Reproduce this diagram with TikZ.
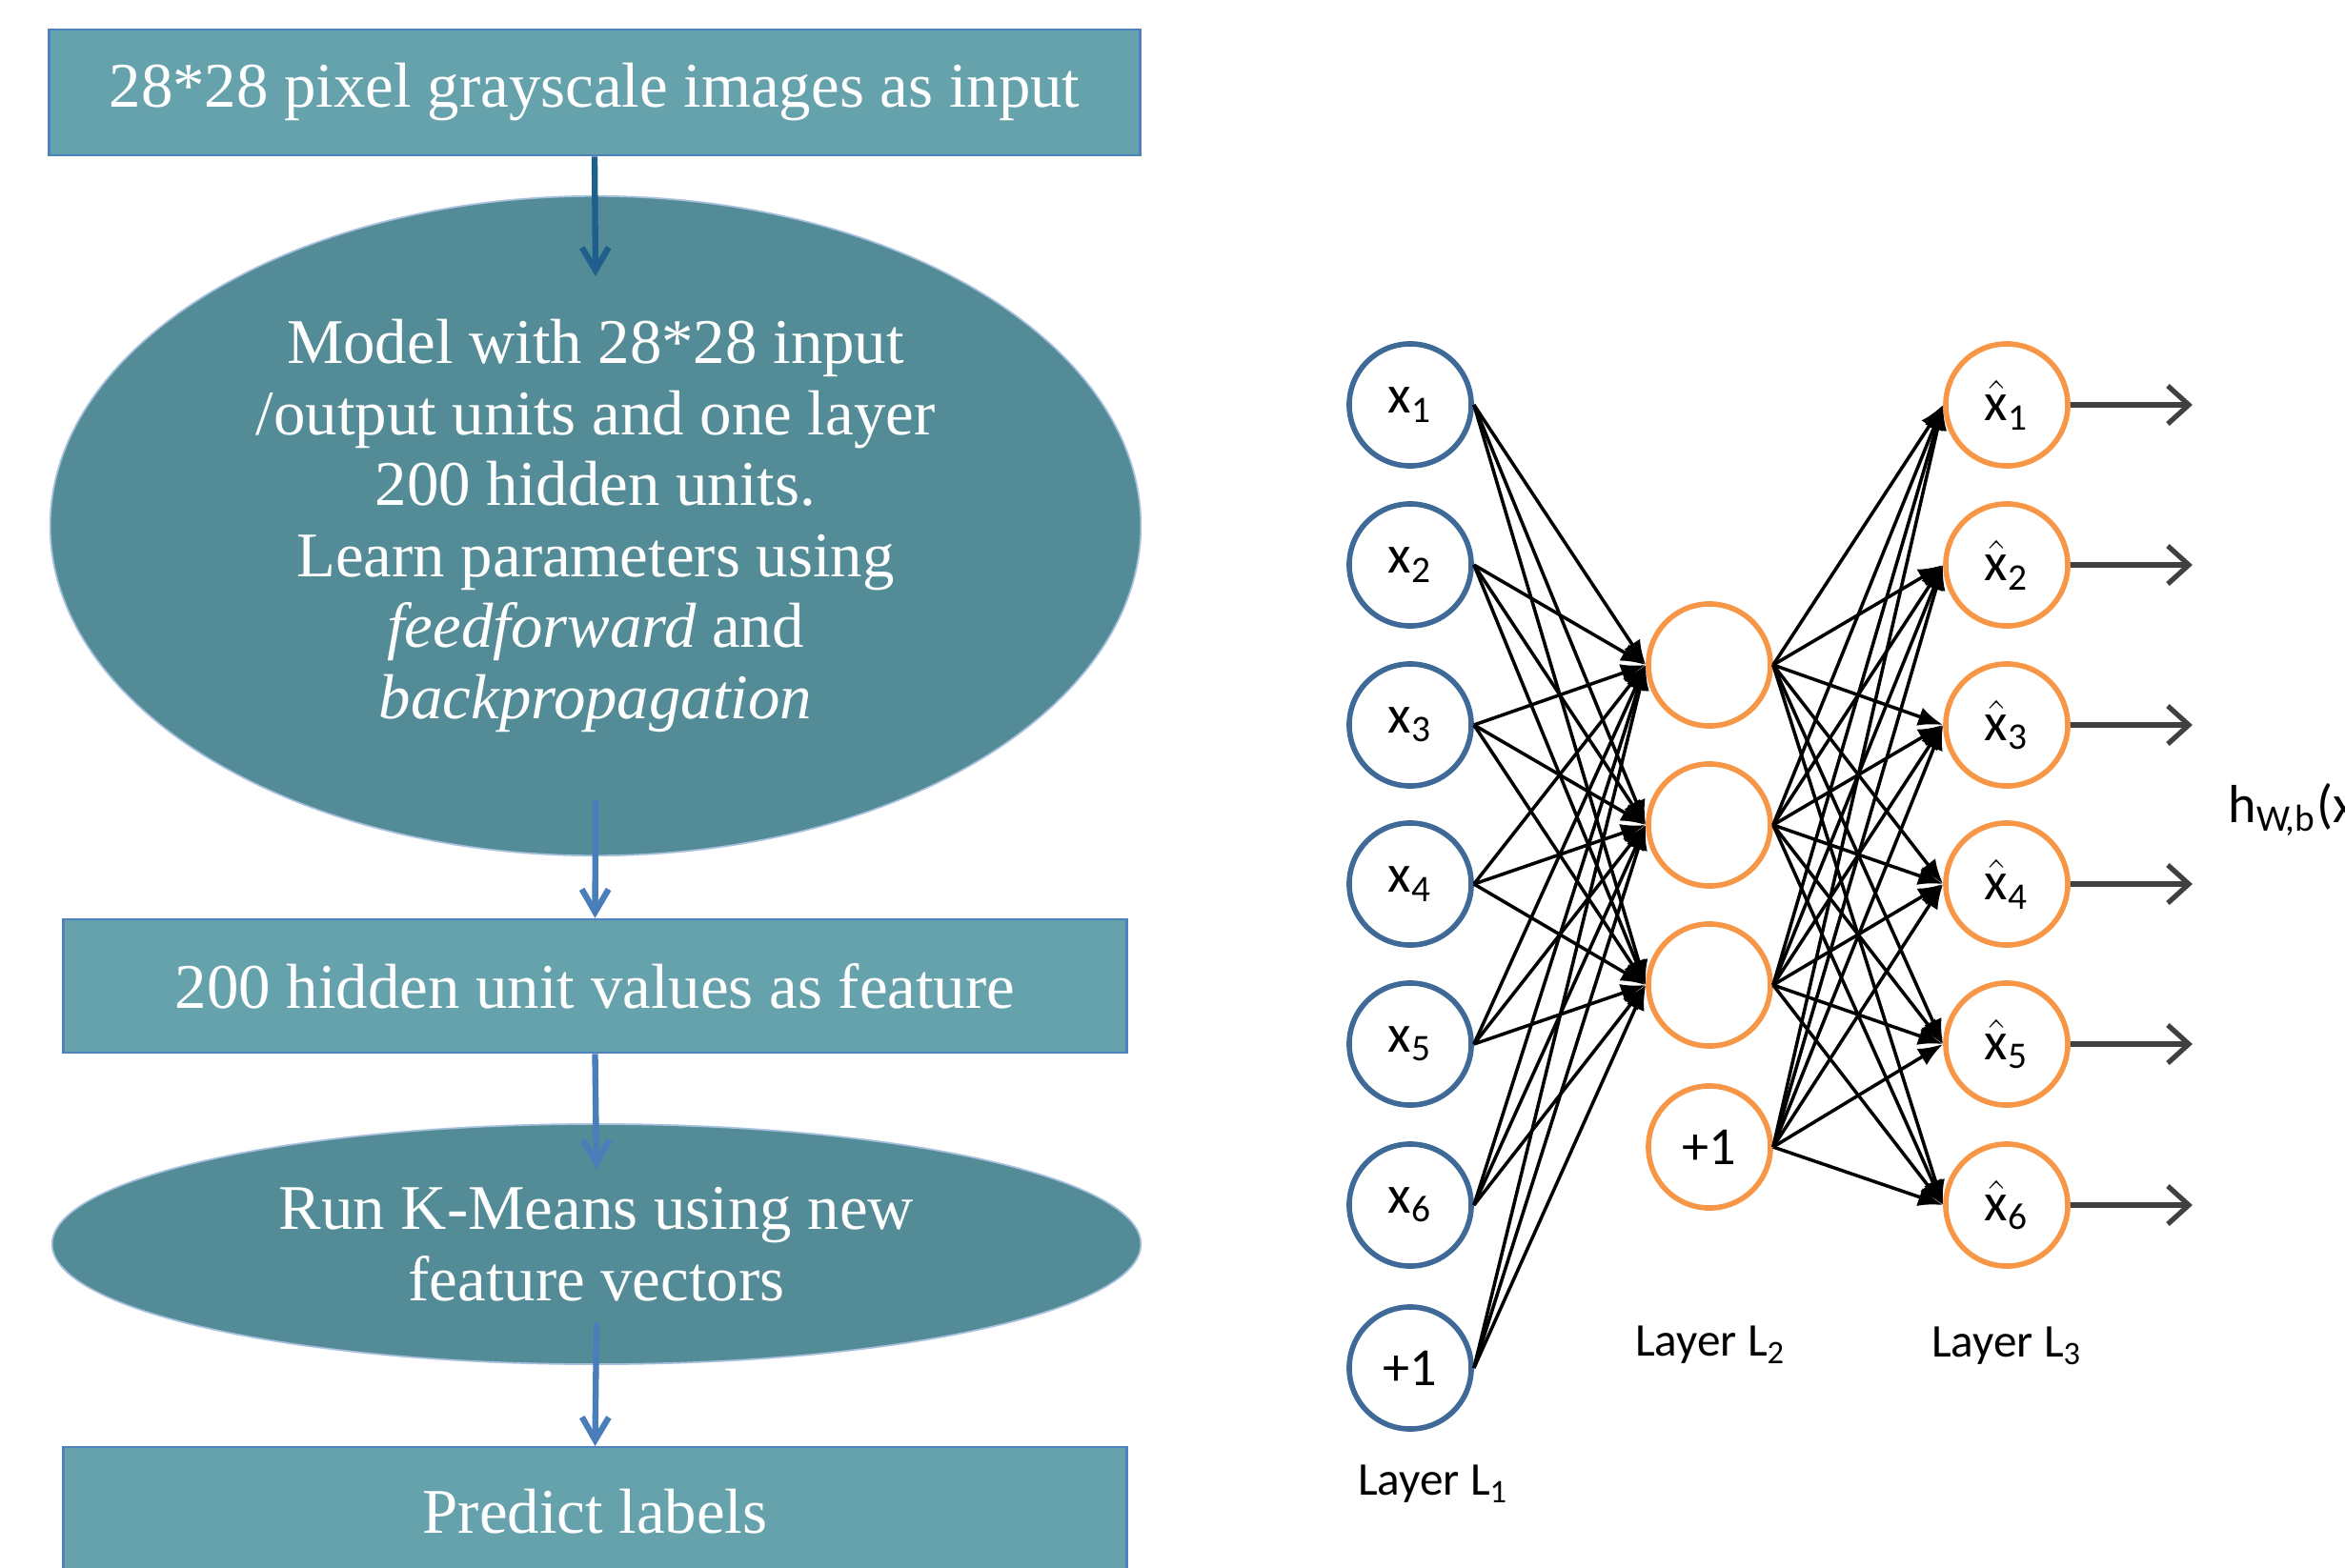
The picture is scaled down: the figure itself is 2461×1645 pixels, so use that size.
\documentclass[tikz,border=0pt]{standalone}
\usepackage{fontspec}
\setmainfont{Liberation Serif}
\newfontfamily\netfont{Carlito}
\usetikzlibrary{shapes.geometric,arrows.meta,positioning}

\definecolor{boxfill}{HTML}{66A2AC}
\definecolor{ellfill}{HTML}{538C96}
\definecolor{boxline}{HTML}{4F81BD}
\definecolor{flowblue}{HTML}{4A7EBB}
\definecolor{darkblue}{HTML}{1F5F8B}
\definecolor{inblue}{HTML}{3F6A98}
\definecolor{hidorange}{HTML}{F79646}

\tikzset{
  flowbox/.style={draw=boxline, line width=0.7pt, fill=boxfill, text=white, inner sep=0pt,
    minimum width=11.15cm, minimum height=1.4cm, font=\fontsize{19}{21.2}\selectfont},
  flowell/.style={ellipse, draw=boxline!50, line width=0.5pt, fill=ellfill, text=white,
    align=center, inner sep=0pt, font=\fontsize{19}{21.2}\selectfont},
  flowarr/.style={line width=1.8pt, draw=flowblue, -{Straight Barb[length=2.4mm,width=2.8mm]}},
  neuron/.style={circle, line width=1.6pt, minimum size=1.28cm, inner sep=0pt,
    font=\netfont\fontsize{16}{18}\selectfont},
  inneuron/.style={neuron, draw=inblue},
  hidneuron/.style={neuron, draw=hidorange},
  conn/.style={line width=1pt, -{Latex[length=2.6mm,width=2mm]}},
  outarr/.style={line width=1.5pt, draw=black!75, -{Straight Barb[length=2.2mm,width=4mm]}},
  layerlabel/.style={font=\netfont\fontsize{14}{16}\selectfont}
}

\begin{document}
\begin{tikzpicture}[x=0.01cm, y=-0.01cm]
\useasboundingbox (0,0) rectangle (2461,1645);
\clip (0,0) rectangle (2461,1645);

% flow chart
\node[flowbox, minimum width=11.44cm, minimum height=1.32cm] (input) at (624,97) {28*28 pixel grayscale images as input};
\node[flowell, minimum width=11.44cm, minimum height=6.92cm] (model) at (625,552)
  {Model with 28*28 input\\/output units and one layer\\200 hidden units.\\Learn parameters using\\\textit{feedforward} and\\\textit{backpropagation}};
\node[flowbox] (feature) at (624.5,1035) {200 hidden unit values as feature};
\node[flowell, minimum width=11.42cm, minimum height=2.52cm] (kmeans) at (626,1306) {Run K-Means using new\\feature vectors};
\node[flowbox, anchor=north, minimum height=1.34cm] (predict) at (624.5,1518) {Predict labels};

\coordinate (modeltop) at (625,290);
\coordinate (modelbot) at (625,840);
\coordinate (kmtop) at (626,1227);
\coordinate (kmbot) at (626,1389);
\draw[flowarr, draw=darkblue] (input.south) -- (modeltop);
\draw[flowarr] (modelbot) -- (feature.north);
\draw[flowarr] (feature.south) -- (kmtop);
\draw[flowarr] (kmbot) -- (predict.north);

% network
\foreach \i/\y in {1/425,2/593,3/761,4/928,5/1096,6/1265}
  \node[inneuron] (in\i) at (1480,\y) {x\textsubscript{\i}};
\node[inneuron] (inb) at (1480,1436) {+1};

\foreach \i/\y in {1/698,2/866,3/1034}
  \node[hidneuron] (hid\i) at (1794,\y) {};
\node[hidneuron] (hidb) at (1794,1204) {+1};

\foreach \i/\y in {1/425,2/593,3/761,4/928,5/1096,6/1265}
  \node[hidneuron] (out\i) at (2106,\y) {$\hat{\hbox{\netfont x}}$\textsubscript{\i}};

\foreach \a in {1,2,3,4,5,6,b}
  \foreach \b in {1,2,3}
    \draw[conn] (in\a.east) -- (hid\b.west);
\foreach \a in {1,2,3,b}
  \foreach \b in {1,...,6}
    \draw[conn] (hid\a.east) -- (out\b.west);

\foreach \i in {1,...,6} {
  \coordinate (end\i) at ([xshift=1.28cm]out\i.east);
  \draw[outarr] (out\i.east) -- (end\i);
}

\node[layerlabel] (lay1) at (1504,1558) {Layer L\textsubscript{1}};
\node[layerlabel] (lay2) at (1795,1412) {Layer L\textsubscript{2}};
\node[layerlabel] (lay3) at (2106,1413) {Layer L\textsubscript{3}};
\node[layerlabel, anchor=west, font=\netfont\fontsize{16}{18}\selectfont] (hwb) at (2326,850) {h\textsubscript{W,b}(x)};

\end{tikzpicture}
\end{document}
